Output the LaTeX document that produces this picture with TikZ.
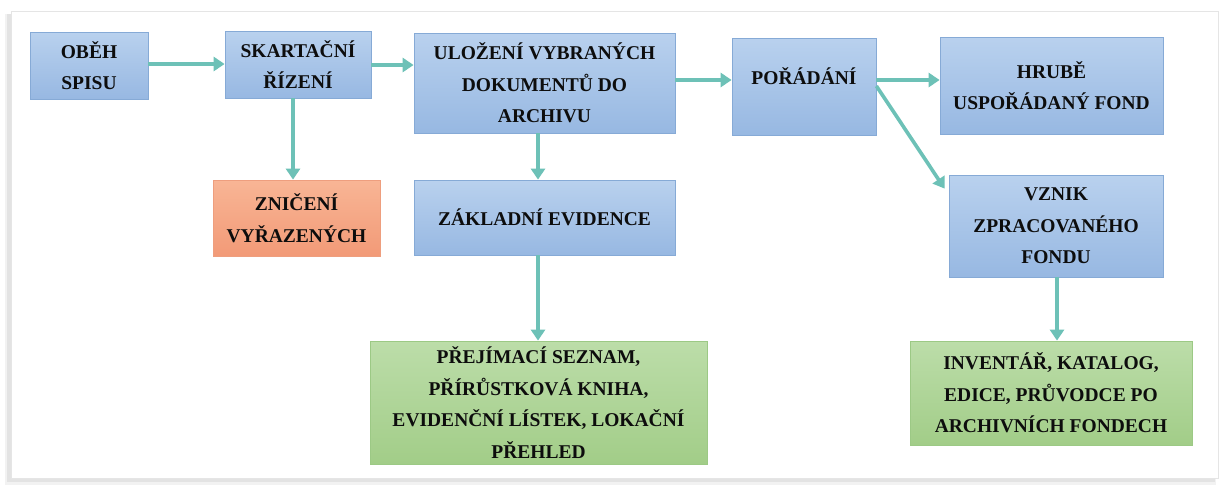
\documentclass[tikz,border=0pt]{standalone}
\usepackage{fontspec}
\setmainfont{Liberation Serif}
\usetikzlibrary{arrows.meta}
\definecolor{arr}{HTML}{6DC1B7}
\definecolor{bluetop}{HTML}{B9D1EE}
\definecolor{bluebot}{HTML}{97B8E2}
\definecolor{blueline}{HTML}{86AAD6}
\definecolor{ortop}{HTML}{F8B595}
\definecolor{orbot}{HTML}{F29A77}
\definecolor{orline}{HTML}{EE9E7E}
\definecolor{grtop}{HTML}{BCDDA9}
\definecolor{grbot}{HTML}{A2CD88}
\definecolor{grline}{HTML}{9CC985}
\definecolor{txt}{HTML}{0D0D0D}
\tikzset{
  box/.style={rectangle, inner sep=0pt, align=center, text=txt,
    font=\bfseries\fontsize{19.5}{31.5}\selectfont},
  bluebox/.style={box, top color=bluetop, bottom color=bluebot, draw=blueline, line width=0.8pt},
  orbox/.style={box, top color=ortop, bottom color=orbot, draw=orline, line width=0.8pt},
  grbox/.style={box, top color=grtop, bottom color=grbot, draw=grline, line width=0.8pt},
  conn/.style={draw=arr, line width=3.6pt, -{Triangle[width=14pt,length=11pt]}}
}
\begin{document}
\begin{tikzpicture}[x=1pt,y=-1pt]
\useasboundingbox (0,0) rectangle (1225,499);
\fill[white] (0,0) rectangle (1225,499);
% frame with soft shadow
\fill[gray!10] (5,14) rectangle (1216,485);
\fill[gray!22] (7,14) rectangle (1215,482);
\fill[white, draw=gray!20, line width=0.6pt] (11,11) rectangle (1218,478);

\node[bluebox, minimum width=118pt, minimum height=67pt] (obeh) at (89,65.5) {OBĚH\\SPISU};
\node[bluebox, minimum width=146pt, minimum height=67pt] (skart) at (298,64.5) {SKARTAČNÍ\\ŘÍZENÍ};
\node[orbox, minimum width=167pt, minimum height=76pt] (znic) at (296.5,218) {ZNIČENÍ\\VYŘAZENÝCH};
\node[bluebox, minimum width=261pt, minimum height=100pt] (uloz) at (544.5,83) {ULOŽENÍ VYBRANÝCH\\DOKUMENTŮ DO\\ARCHIVU};
\node[bluebox, minimum width=261pt, minimum height=75pt] (zakl) at (544.5,217.5) {ZÁKLADNÍ EVIDENCE};
\node[bluebox, minimum width=144pt, minimum height=97pt, text depth=20pt] (porad) at (804,86.5) {POŘÁDÁNÍ};
\node[bluebox, minimum width=223pt, minimum height=97pt] (hrube) at (1051.5,85.5) {HRUBĚ\\USPOŘÁDANÝ FOND};
\node[bluebox, minimum width=214pt, minimum height=102pt] (vznik) at (1056,226) {VZNIK\\ZPRACOVANÉHO\\FONDU};
\node[grbox, minimum width=337pt, minimum height=123pt] (prej) at (538.5,402.5) {PŘEJÍMACÍ SEZNAM,\\PŘÍRŮSTKOVÁ KNIHA,\\EVIDENČNÍ LÍSTEK, LOKAČNÍ\\PŘEHLED};
\node[grbox, minimum width=282pt, minimum height=104pt] (inv) at (1051,393) {INVENTÁŘ, KATALOG,\\EDICE, PRŮVODCE PO\\ARCHIVNÍCH FONDECH};

\draw[conn] (obeh.east |- 0,64) -- (skart.west |- 0,64);
\draw[conn] (skart.east |- 0,65) -- (uloz.west |- 0,65);
\draw[conn] (skart.south -| 293,0) -- (znic.north -| 293,0);
\draw[conn] (uloz.south -| 538,0) -- (zakl.north -| 538,0);
\draw[conn] (uloz.east |- 0,80) -- (porad.west |- 0,80);
\draw[conn] (porad.east |- 0,80) -- (hrube.west |- 0,80);
\draw[conn] (porad.east |- 0,86) -- ([xshift=-4pt,yshift=-14pt]vznik.north west);
\draw[conn] (zakl.south -| 538,0) -- (prej.north -| 538,0);
\draw[conn] (vznik.south -| 1057,0) -- (inv.north -| 1057,0);
\end{tikzpicture}
\end{document}
